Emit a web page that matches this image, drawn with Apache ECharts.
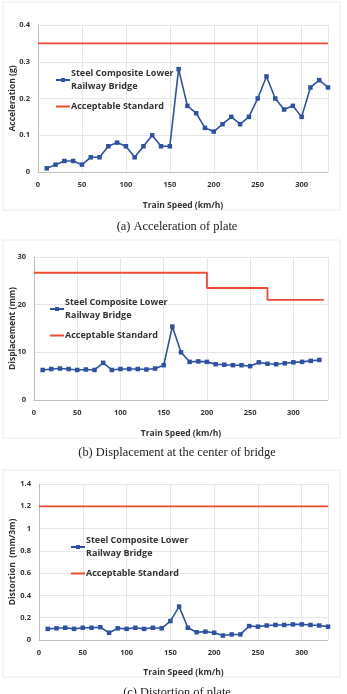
<!DOCTYPE html>
<html>
<head>
<meta charset="utf-8">
<script src="https://cdn.jsdelivr.net/npm/echarts@6/dist/echarts.min.js"></script>
<style>
  html, body { margin: 0; padding: 0; background: #fff; }
</style>
</head>
<body>
<div id="main" style="width:347px;height:694px;"></div>
<script type="text/javascript">
    // train speed (km/h), shared by the three panels
    var speeds = [10, 20, 30, 40, 50, 60, 70, 80, 90, 100, 110, 120, 130, 140, 150, 160,
        170, 180, 190, 200, 210, 220, 230, 240, 250, 260, 270, 280, 290, 300, 310, 320, 330];

    // (a) acceleration of plate (g)
    var accel = [0.01, 0.02, 0.03, 0.03, 0.02, 0.04, 0.04, 0.07, 0.08, 0.07, 0.04, 0.07, 0.10, 0.07, 0.07, 0.28,
        0.18, 0.16, 0.12, 0.11, 0.13, 0.15, 0.13, 0.15, 0.20, 0.26, 0.20, 0.17, 0.18, 0.15, 0.23, 0.25, 0.23];
    var accelLimitX = [0, 330];
    var accelLimitY = [0.35, 0.35];

    // (b) displacement at the center of bridge (mm)
    var displ = [6.3, 6.5, 6.6, 6.5, 6.3, 6.4, 6.3, 7.8, 6.3, 6.5, 6.5, 6.5, 6.4, 6.6, 7.3, 15.4,
        10.0, 8.0, 8.1, 8.0, 7.5, 7.4, 7.3, 7.3, 7.1, 7.9, 7.6, 7.5, 7.7, 7.9, 8.0, 8.2, 8.4];
    var displLimitX = [0, 200, 200, 270, 270, 335];
    var displLimitY = [26.7, 26.7, 23.5, 23.5, 21.0, 21.0];

    // (c) distortion of plate (mm/3m)
    var distort = [0.10, 0.105, 0.11, 0.10, 0.11, 0.11, 0.115, 0.065, 0.105, 0.10, 0.11, 0.10, 0.11, 0.105, 0.17, 0.30,
        0.11, 0.07, 0.075, 0.065, 0.04, 0.05, 0.05, 0.125, 0.12, 0.13, 0.135, 0.135, 0.14, 0.14, 0.135, 0.13, 0.12];
    var distortLimitX = [0, 330];
    var distortLimitY = [1.2, 1.2];

    var captions = ['(a) Acceleration of plate', '(b) Displacement at the center of bridge', '(c) Distortion of plate'];
    var yNames = ['Acceleration (g)', 'Displacement (mm)', 'Distortion  (mm/3m)'];

    var bridgeName = 'Steel Composite Lower Railway Bridge';
    var stdName = 'Acceptable Standard';
    var blue = '#2f51a3';
    var red = '#ef4b33';
    var font = 'Open Sans';

    function pairs(xs, ys) {
        var out = [];
        for (var i = 0; i < xs.length; i++) out.push([xs[i], ys[i]]);
        return out;
    }

    var grids = [
        {left: 38, top: 25, width: 290, height: 147, outerBoundsMode: 'none'},
        {left: 34, top: 257, width: 294, height: 143, outerBoundsMode: 'none'},
        {left: 39, top: 484, width: 289, height: 156, outerBoundsMode: 'none'}
    ];
    var xMax = [330, 340, 330];
    var yAxisCfg = [
        {min: 0, max: 0.4, interval: 0.1, gap: 21},
        {min: 0, max: 30, interval: 10, gap: 17},
        {min: 0, max: 1.4, interval: 0.2, gap: 22}
    ];
    var xNameGap = [29, 29, 28];
    var legendPos = [
        {left: 50, top: 62},
        {left: 44, top: 291},
        {left: 65, top: 529}
    ];
    var captionTop = [216, 442, 682];
    var frames = [[3, 2, 337, 208], [3, 240, 337, 198], [3, 470, 337, 207]];

    var gridLine = {lineStyle: {color: '#e6e6e6', width: 1}};

    var xAxes = [], yAxes = [], legends = [], titles = [], series = [], graphics = [];
    var bridgeData = [accel, displ, distort];
    var limits = [[accelLimitX, accelLimitY], [displLimitX, displLimitY], [distortLimitX, distortLimitY]];

    for (var k = 0; k < 3; k++) {
        xAxes.push({
            type: 'value', gridIndex: k, min: 0, max: xMax[k], interval: 50,
            name: 'Train Speed (km/h)', nameLocation: 'middle', nameGap: xNameGap[k], nameMoveOverlap: false,
            nameTextStyle: {fontFamily: font, fontWeight: 'bold', fontSize: 8.5, color: '#333'},
            axisLine: {lineStyle: {color: '#bfbfbf'}},
            axisTick: {show: false},
            axisLabel: {fontFamily: font, fontWeight: 'bold', fontSize: 7.5, color: '#333', margin: 9, showMaxLabel: false},
            splitLine: gridLine
        });
        yAxes.push({
            type: 'value', gridIndex: k, min: yAxisCfg[k].min, max: yAxisCfg[k].max, interval: yAxisCfg[k].interval,
            name: yNames[k], nameLocation: 'middle', nameGap: yAxisCfg[k].gap, nameMoveOverlap: false,
            nameTextStyle: {fontFamily: font, fontWeight: 'bold', fontSize: 8.5, color: '#333'},
            axisLine: {show: true, lineStyle: {color: '#bfbfbf'}},
            axisTick: {show: false},
            axisLabel: {fontFamily: font, fontWeight: 'bold', fontSize: 7.5, color: '#333'},
            splitLine: gridLine
        });
        series.push({
            name: bridgeName, type: 'line', xAxisIndex: k, yAxisIndex: k,
            data: pairs(speeds, bridgeData[k]),
            symbol: 'rect', symbolSize: 4.5,
            lineStyle: {color: blue, width: 1.6},
            itemStyle: {color: blue}
        });
        series.push({
            name: stdName, type: 'line', xAxisIndex: k, yAxisIndex: k,
            data: pairs(limits[k][0], limits[k][1]),
            symbol: 'none',
            lineStyle: {color: red, width: 1.8},
            itemStyle: {color: red}
        });
        legends.push({
            orient: 'vertical', left: legendPos[k].left, top: legendPos[k].top,
            itemWidth: 14, itemHeight: 5, itemGap: 7,
            data: [bridgeName, {name: stdName, itemStyle: {opacity: 0}}],
            formatter: function (n) { return n.replace(' Lower ', ' Lower\n'); },
            textStyle: {fontFamily: font, fontWeight: 'bold', fontSize: 9, color: '#333', lineHeight: 13, padding: [0, 0, 0, -4]}
        });
        titles.push({
            text: captions[k], left: 172, top: captionTop[k], textAlign: 'center',
            textStyle: {fontFamily: 'Liberation Serif', fontWeight: 'normal', fontSize: 12.4, color: '#222'}
        });
        graphics.push({
            type: 'rect', silent: true,
            shape: {x: frames[k][0], y: frames[k][1], width: frames[k][2], height: frames[k][3]},
            style: {fill: 'none', stroke: '#ececec', lineWidth: 1}
        });
    }

    var myChart = echarts.init(document.getElementById('main'));
    var option = {
        animation: false,
        backgroundColor: '#fff',
        grid: grids,
        xAxis: xAxes,
        yAxis: yAxes,
        legend: legends,
        title: titles,
        graphic: graphics,
        series: series
    };
    myChart.setOption(option);
</script>
</body>
</html>
